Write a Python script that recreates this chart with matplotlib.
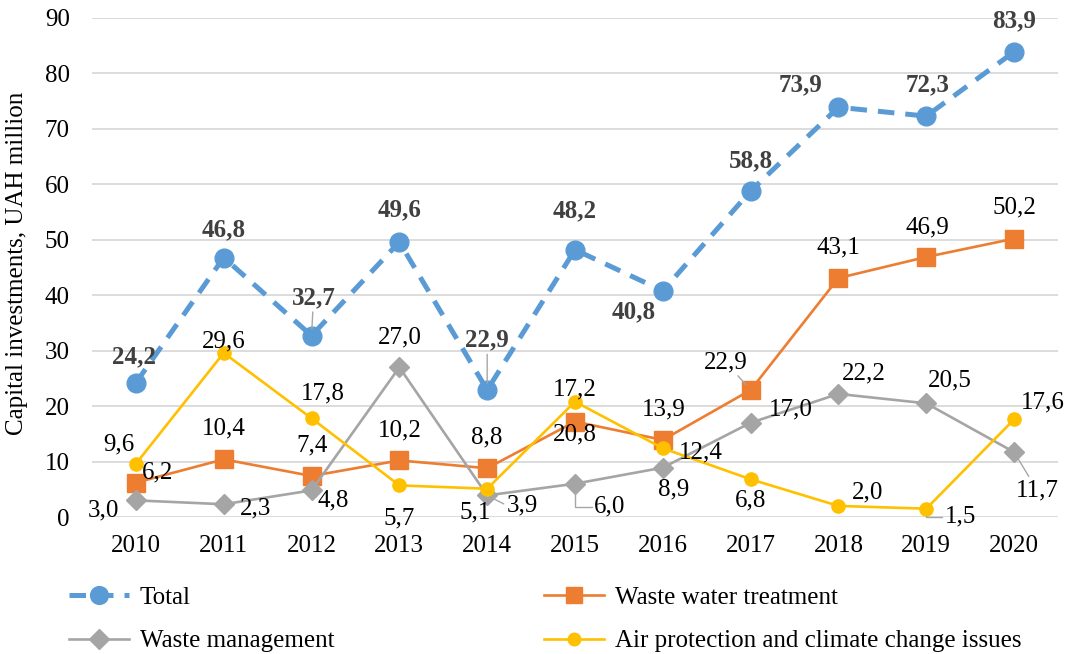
import matplotlib
matplotlib.use("Agg")
import matplotlib.pyplot as plt

plt.rcParams['font.family'] = ['Liberation Serif', 'DejaVu Serif']

years = [2010, 2011, 2012, 2013, 2014, 2015, 2016, 2017, 2018, 2019, 2020]
total = [24.2, 46.8, 32.7, 49.6, 22.9, 48.2, 40.8, 58.8, 73.9, 72.3, 83.9]
waste_water = [6.2, 10.4, 7.4, 10.2, 8.8, 17.2, 13.9, 22.9, 43.1, 46.9, 50.2]
waste_mgmt = [3.0, 2.3, 4.8, 27.0, 3.9, 6.0, 8.9, 17.0, 22.2, 20.5, 11.7]
air = [9.6, 29.6, 17.8, 5.7, 5.1, 20.8, 12.4, 6.8, 2.0, 1.5, 17.6]

names = ["Total", "Waste water treatment", "Waste management",
         "Air protection and climate change issues"]

FS = 18

# label placement (pixel offsets from each point, +y up)
off_total = [(-2, 26), (0, 28), (2, 38), (0, 32), (0, 50), (0, 39),
             (-29, -21), (0, 30), (-38, 22), (1, 31), (0, 31)]
off_ww = [(22, 10), (0, 31), (1, 31), (0, 30), (0, 31), (0, 32),
          (1, 30), (-25, 28), (0, 31), (1, 30), (0, 31)]
off_wm = [(-32, -10), (32, -4), (22, -10), (0, 30), (35, -10), (35, -23),
          (11, -22), (40, 13), (25, 20), (24, 23), (23, -38)]
off_air = [(-17, 19), (0, 11), (11, 25), (0, -33), (-12, -24), (0, -33),
           (38, -4), (0, -21), (29, 13), (34, -8), (29, 17)]

# which labels get a leader line: (series, index) -> style
leaders = {
    ("total", 2): "straight", ("total", 4): "straight",
    ("ww", 7): "straight",
    ("wm", 4): "left", ("wm", 5): "elbow",
    ("wm", 10): "straight",
    ("air", 9): "elbow",
}

fig = plt.figure(figsize=(10.77, 6.54), dpi=100)
ax = fig.add_axes([92 / 1077, 1 - 517 / 654, (1058 - 92) / 1077, (517 - 18) / 654])

x = list(range(len(years)))
c_total, c_ww, c_wm, c_air = "#5B9BD5", "#ED7D31", "#A5A5A5", "#FFC000"

h_total, = ax.plot(x, total, color=c_total, lw=3.6, linestyle=(0, (3.3, 2.2)),
                   marker="o", ms=13.5, label=names[0], zorder=3)
h_ww, = ax.plot(x, waste_water, color=c_ww, lw=1.9, marker="s", ms=12.5,
                label=names[1], zorder=4)
h_wm, = ax.plot(x, waste_mgmt, color=c_wm, lw=1.9, marker="D", ms=10.5,
                label=names[2], zorder=5)
h_air, = ax.plot(x, air, color=c_air, lw=1.9, marker="o", ms=9.5,
                 label=names[3], zorder=6)

ax.set_xlim(-0.5, len(years) - 0.5)
ax.set_ylim(0, 90)
ax.set_yticks(range(0, 91, 10))
ax.set_xticks(x)
ax.set_xticklabels([str(y) for y in years])
ax.grid(axis="y", color="#D9D9D9", lw=1.3)
ax.set_axisbelow(True)
for s in ax.spines.values():
    s.set_visible(False)
ax.tick_params(axis="both", length=0, labelsize=FS, colors="#000000")
ax.tick_params(axis="y", pad=16)
ax.tick_params(axis="x", pad=13)
ax.set_ylabel("Capital investments, UAH million", fontsize=FS)
ax.yaxis.set_label_coords(-0.0663, 0.509)


def fmt(v):
    return f"{v:.1f}".replace(".", ",")


def put_labels(key, values, offsets, **kw):
    for i, (v, (dx, dy)) in enumerate(zip(values, offsets)):
        style = leaders.get((key, i))
        arrow = None
        if style == "straight":
            arrow = dict(arrowstyle="-", color="#A6A6A6", lw=1.0,
                         shrinkA=0, shrinkB=5)
        elif style == "left":
            arrow = dict(arrowstyle="-", color="#A6A6A6", lw=1.0,
                         shrinkA=0, shrinkB=5, relpos=(0, 0.5))
        elif style == "elbow":
            arrow = dict(arrowstyle="-", color="#A6A6A6", lw=1.0,
                         shrinkA=0, shrinkB=5, relpos=(0, 0.5),
                         connectionstyle="angle,angleA=0,angleB=90,rad=0")
        ax.annotate(fmt(v), xy=(i, v), xytext=(dx, dy),
                    textcoords="offset pixels", ha="center", va="center",
                    fontsize=FS, arrowprops=arrow, zorder=7, **kw)


put_labels("total", total, off_total, color="#404040", fontweight="bold")
put_labels("ww", waste_water, off_ww, color="#000000")
put_labels("wm", waste_mgmt, off_wm, color="#000000")
put_labels("air", air, off_air, color="#000000")

# legend filled column by column: rows read Total | Waste water, Waste mgmt | Air
fig.legend([h_total, h_wm, h_ww, h_air],
           [names[0], names[2], names[1], names[3]],
           loc="upper left", bbox_to_anchor=(46 / 1077, 1 - 564 / 654),
           ncol=2, frameon=False, fontsize=FS, handlelength=2.4,
           handletextpad=0.44, columnspacing=8.4, labelspacing=0.83,
           markerscale=0.95)

fig.savefig("out.png", dpi=100)
